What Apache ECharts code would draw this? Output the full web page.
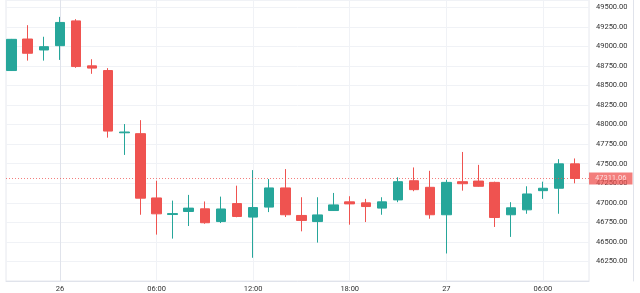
<!DOCTYPE html>
<html>
<head>
<meta charset="utf-8">
<script src="https://cdn.jsdelivr.net/npm/echarts@6/dist/echarts.min.js"></script>
<style>
html,body{margin:0;padding:0;background:#fff;}
#chart{width:640px;height:293px;}
</style>
</head>
<body>
<div id="chart"></div>
<script>
// hours relative to 26th 00:00
const hours  = [-3,-2,-1,0,1,2,3,4,5,6,7,8,9,10,11,12,13,14,15,16,17,18,19,20,21,22,23,24,25,26,27,28,29,30,31,32];
const opens  = [48691,49094,48954,49009,49326,48751,48691,47895,47884,47062,46850,46889,46923,46760,46990,46817,46945,47190,46838,46760,46901,47012,46999,46932,47037,47282,47198,46847,47270,47278,47261,46847,46910,47155,47186,47498];
const closes = [49090,48912,48996,49306,48742,48722,47917,47905,47059,46859,46862,46932,46745,46921,46825,46939,47190,46847,46774,46845,46973,46986,46952,47012,47270,47168,46847,47261,47244,47211,46812,46936,47113,47186,47498,47311.06];
const lows   = [48685,48818,48818,48827,48726,48649,47833,47612,46847,46593,46542,46703,46732,46741,46815,46297,46881,46818,46635,46491,46895,46720,46754,46847,47008,47148,46796,46352,47155,47205,46691,46564,46860,47050,46860,47249];
const highs  = [49095,49271,49123,49377,49348,48836,48722,48007,48057,47282,47028,47101,47017,47079,47219,47418,47304,47431,47071,47071,47126,47084,47050,47071,47326,47452,47409,47295,47650,47485,47270,47008,47211,47270,47558,47567];
const xTickValues = [0,6,12,18,24,30];
const xTickLabels = ['26','06:00','12:00','18:00','27','06:00'];
const lastPrice = 47311.06;

const data = hours.map((h,i)=>[h, opens[i], closes[i], lows[i], highs[i]]);
const UP = '#26a69a', DOWN = '#ef5350';
const FONT = 'Roboto';

const chart = echarts.init(document.getElementById('chart'), null, {renderer:'canvas'});
chart.setOption({
  animation:false,
  backgroundColor:'#ffffff',
  grid:{left:6, right:51, top:0, bottom:10, show:true, borderColor:'#e6e8ee', borderWidth:1},
  xAxis:{
    type:'value', min:-3.35, max:32.86,
    axisLine:{show:true, lineStyle:{color:'#e0e3eb'}},
    axisTick:{show:false, customValues:xTickValues},
    splitLine:{show:true, lineStyle:{color:'#f0f2f6'}},
    axisLabel:{
      customValues:xTickValues, margin:4, fontSize:7.5, fontFamily:FONT, color:'#333',
      formatter:(v)=>{const i=xTickValues.indexOf(v);return i>=0?xTickLabels[i]:'';}
    }
  },
  yAxis:[{
    type:'value', position:'right', min:46000, max:49593, interval:250, scale:true,
    axisLine:{show:true, lineStyle:{color:'#e0e3eb'}},
    axisTick:{show:false},
    splitLine:{show:true, lineStyle:{color:'#f0f2f6'}},
    axisLabel:{showMinLabel:false, showMaxLabel:false, margin:7, fontSize:7.5, fontFamily:FONT, color:'#333',
      formatter:(v)=>v.toFixed(2)}
  },{
    type:'value', position:'right', offset:44, min:46000, max:49593,
    axisLine:{show:true, lineStyle:{color:'#e0e3eb'}},
    axisTick:{show:false}, axisLabel:{show:false}, splitLine:{show:false}
  }],
  series:[{
    type:'candlestick',
    data:data,
    encode:{x:0, y:[1,2,3,4]},
    barWidth:10,
    itemStyle:{color:UP, color0:DOWN, borderColor:UP, borderColor0:DOWN, borderWidth:1},
    markLine:{
      silent:true, symbol:['none','none'],
      lineStyle:{color:DOWN, type:[1,2], width:1, opacity:0.75},
      label:{position:'end', distance:0, formatter:()=>lastPrice.toFixed(2),
        backgroundColor:DOWN, color:'#fff', fontSize:7.5, fontFamily:FONT, padding:[2,6,2,6]},
      data:[{yAxis:lastPrice}]
    }
  }]
});
</script>
</body>
</html>
